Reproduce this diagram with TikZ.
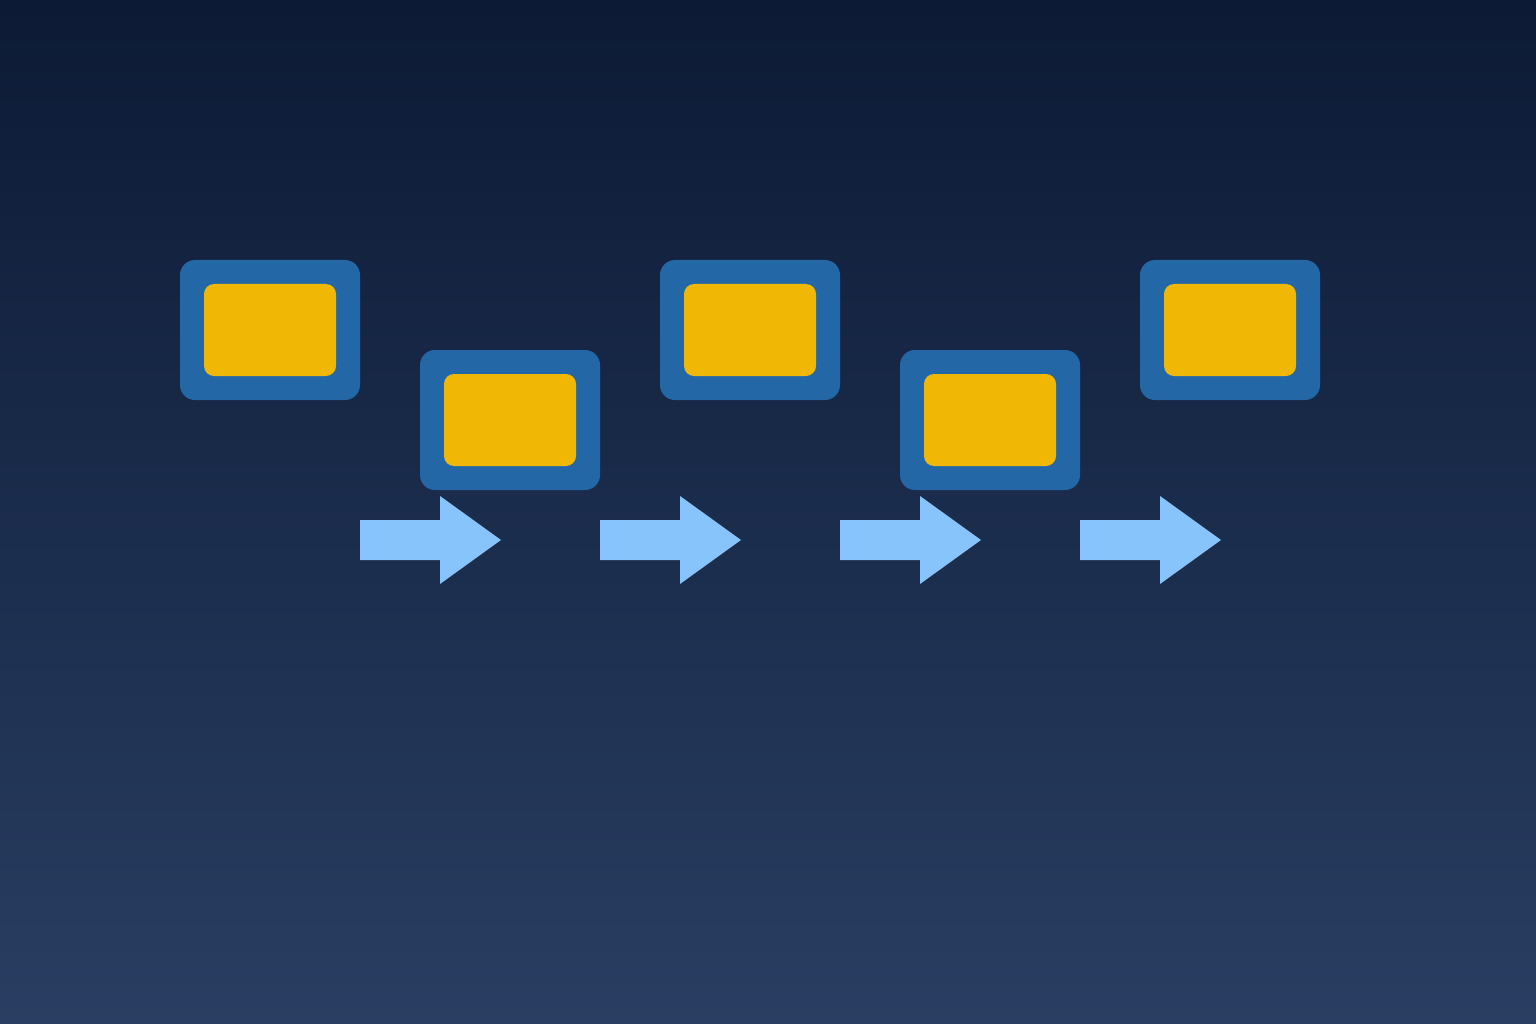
\documentclass[tikz,border=0pt]{standalone}
\usetikzlibrary{positioning}
\definecolor{bgtop}{HTML}{0C1A35}
\definecolor{bgbot}{HTML}{293E62}
\definecolor{frameblue}{HTML}{2467A7}
\definecolor{coreyellow}{HTML}{F0B805}
\definecolor{arrowblue}{HTML}{88C4FC}
\tikzset{
  outerbox/.style={draw=none, fill=frameblue, rounded corners=15pt, minimum width=180pt, minimum height=140pt, inner sep=0pt},
  innerbox/.style={draw=none, fill=coreyellow, rounded corners=10pt, minimum width=132pt, minimum height=92pt, inner sep=0pt},
  flowarrow/.style={fill=arrowblue, draw=none}
}
\begin{document}
\begin{tikzpicture}[x=1pt,y=-1pt]
\shade[top color=bgtop, bottom color=bgbot] (0,0) rectangle (1536,1024);
\useasboundingbox (0,0) rectangle (1536,1024);
\foreach \n/\cx/\cy in {b1/270/330, b2/510/420, b3/750/330, b4/990/420, b5/1230/330}{
  \node[outerbox] (\n) at (\cx,\cy) {};
  \node[innerbox] (\n-in) at (\cx,\cy) {};
}
\foreach \ax in {360,600,840,1080}{
  \fill[flowarrow] (\ax,520) -- (\ax+80,520) -- (\ax+80,496) -- (\ax+141,540) -- (\ax+80,584) -- (\ax+80,560) -- (\ax,560) -- cycle;
}
\end{tikzpicture}
\end{document}
